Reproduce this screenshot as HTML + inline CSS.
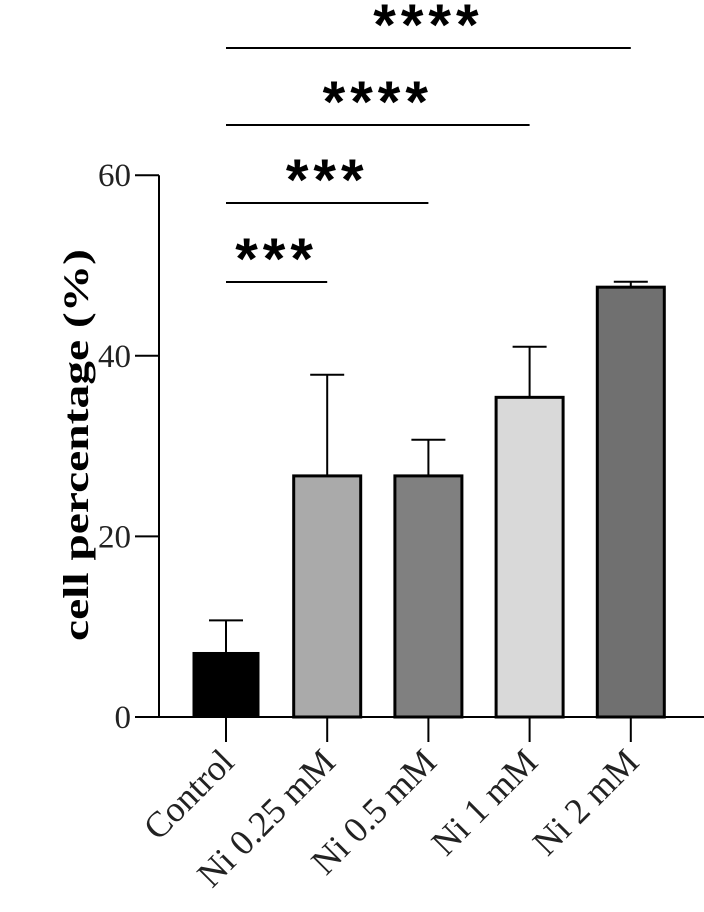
<!DOCTYPE html>
<html><head><meta charset="utf-8"><style>
html,body{margin:0;padding:0;background:#fff;}
svg{display:block;font-family:"Liberation Serif",serif;}
</style></head><body>
<svg id="chart" width="704" height="912" viewBox="0 0 704 912" xmlns="http://www.w3.org/2000/svg">
<g id="axes"></g><g id="bars"></g><g id="sig"></g>
<text transform="translate(88,445) rotate(-90)" text-anchor="middle" font-size="36" font-weight="bold" textLength="392" lengthAdjust="spacingAndGlyphs">cell percentage (%)</text>
</svg>
<script>
const categories = ["Control","Ni 0.25 mM","Ni 0.5 mM","Ni 1 mM","Ni 2 mM"];
const means = [7.2, 26.7, 26.7, 35.4, 47.6];
const errors = [3.5, 11.2, 4.0, 5.6, 0.6];
const yTicks = [0, 20, 40, 60];
const fills = ["#000000","#aaaaaa","#808080","#d9d9d9","#707070"];
const sigPairs = [[0,1],[0,2],[0,3],[0,4]];
const sigLabels = ["***","***","****","****"];

const NS="http://www.w3.org/2000/svg";
const y0=717, pxPerUnit=9.03;
function yS(v){return y0 - v*pxPerUnit;}
function xS(i){return 226 + i*101.2;}
const barW=67;
function mk(tag, attrs, parent, txt){
  const e=document.createElementNS(NS,tag);
  for(const k in attrs) e.setAttribute(k, attrs[k]);
  if(txt!==undefined) e.textContent=txt;
  parent.appendChild(e); return e;
}
const axes=document.getElementById('axes');
const bars=document.getElementById('bars');
const sig=document.getElementById('sig');

let el=mk('line',{x1:159,y1:yS(60),x2:159,y2:y0,stroke:'#000','stroke-width':2},axes);


el=mk('line',{x1:135,y1:y0,x2:704,y2:y0,stroke:'#000','stroke-width':2},axes);



yTicks.forEach(t=>{
  let tk=mk('line',{x1:135,y1:yS(t),x2:159,y2:yS(t),stroke:'#000','stroke-width':2},axes);
  
  
  let lb=mk('text',{x:131,y:yS(t)+11,'text-anchor':'end','font-size':33,fill:'#222'},axes,String(t));
  
  
});

categories.forEach((c,i)=>{
  const cx=xS(i);
  let tk=mk('line',{x1:cx,y1:y0,x2:cx,y2:742,stroke:'#000','stroke-width':2},axes);
  
  
  let lb=mk('text',{transform:`translate(${cx+10},764) rotate(-45)`,'text-anchor':'end','font-size':36,fill:'#222'},axes,c);
  
  
  const top=yS(means[i]);
  let eb=mk('line',{x1:cx,y1:yS(means[i]+errors[i]),x2:cx,y2:top,stroke:'#000','stroke-width':2},bars);
  
  
  let cap=mk('line',{x1:cx-17,y1:yS(means[i]+errors[i]),x2:cx+17,y2:yS(means[i]+errors[i]),stroke:'#000','stroke-width':2},bars);
  
  
  let r=mk('rect',{x:cx-barW/2,y:top,width:barW,height:y0-top,fill:fills[i],stroke:'#000','stroke-width':i===0?0:3},bars);
  
  
});

const sigY=[282,203,125,48];
sigPairs.forEach((p,k)=>{
  const x1=xS(p[0]), x2=xS(p[1]);
  let ln=mk('line',{x1:x1,y1:sigY[k],x2:x2,y2:sigY[k],stroke:'#000','stroke-width':2},sig);
  
  
  let tx=mk('text',{x:(x1+x2)/2,y:sigY[k]-3,'text-anchor':'middle','font-size':58,'font-weight':'bold','letter-spacing':5,'font-family':'Liberation Sans, sans-serif'},sig,sigLabels[k]);
  
  
});
</script>
</body></html>
